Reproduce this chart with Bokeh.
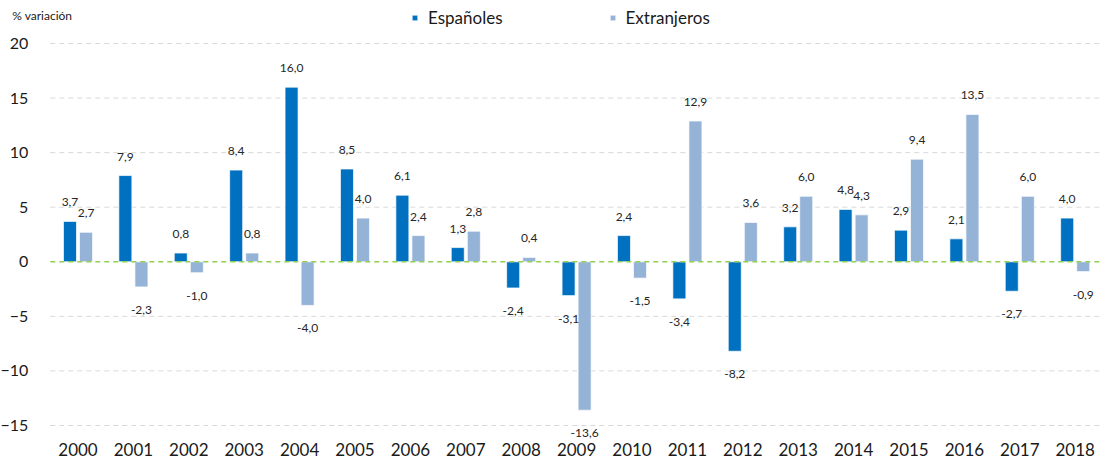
from bokeh.plotting import figure
from bokeh.models import (Range1d, ColumnDataSource, Legend, LegendItem, Label, FixedTicker)
from bokeh.transform import dodge
from bokeh.core.properties import value
from bokeh.embed import file_html
from bokeh.resources import INLINE

years = [str(y) for y in range(2000, 2019)]
espanoles = [3.7, 7.9, 0.8, 8.4, 16.0, 8.5, 6.1, 1.3, -2.4, -3.1, 2.4, -3.4, -8.2, 3.2, 4.8, 2.9, 2.1, -2.7, 4.0]
extranjeros = [2.7, -2.3, -1.0, 0.8, -4.0, 4.0, 2.4, 2.8, 0.4, -13.6, -1.5, 12.9, 3.6, 6.0, 4.3, 9.4, 13.5, 6.0, -0.9]
y_ticks = [-15, -10, -5, 0, 5, 10, 15, 20]

FONT = "Lato"
C_ESP = "#0070C0"
C_EXT = "#95B3D7"

xpos = list(range(len(years)))
X_START, X_END = -1.3989, 18.4747
Y_START, Y_END = -18.30, 23.94
LEFT_EDGE = -0.5
X_AXIS_AT = -15.367


def fmt(v):
    return f"{v:.1f}".replace(".", ",")


def label_source(vals, positive):
    idx = [i for i, v in enumerate(vals) if (v >= 0) == positive]
    return ColumnDataSource(dict(x=[xpos[i] for i in idx],
                                 val=[vals[i] for i in idx],
                                 lab=[fmt(vals[i]) for i in idx]))


src_esp = ColumnDataSource(dict(x=xpos, val=espanoles))
src_ext = ColumnDataSource(dict(x=xpos, val=extranjeros))

p = figure(width=1101, height=461, x_range=Range1d(X_START, X_END),
           y_range=Range1d(Y_START, Y_END), output_backend="svg", toolbar_location=None,
           min_border_left=0, min_border_right=0, min_border_top=0, min_border_bottom=0)
p.outline_line_color = None
p.background_fill_color = "white"
p.border_fill_color = "white"
p.xgrid.visible = False
p.ygrid.visible = False

# dashed gridlines starting at the category area edge
grid_y = [t for t in y_ticks if t != 0]
p.segment(x0=LEFT_EDGE, x1=X_END, y0=grid_y, y1=grid_y, line_color="#D9D9D9",
          line_width=1, line_dash="5 4")

off = 0.145
w = 0.235
r1 = p.vbar(x=dodge("x", -off), top="val", bottom=0, width=w, source=src_esp,
            fill_color=C_ESP, line_color="white", line_alpha=0.7, line_width=1)
r2 = p.vbar(x=dodge("x", off), top="val", bottom=0, width=w, source=src_ext,
            fill_color=C_EXT, line_color="white", line_alpha=0.7, line_width=1)

p.segment(x0=LEFT_EDGE, x1=X_END, y0=0, y1=0, line_color="#92D050", line_width=1.5,
          line_dash="5 4")

for vals, o in ((espanoles, -off), (extranjeros, off)):
    p.text(x=dodge("x", o), y="val", text="lab", source=label_source(vals, True),
           text_font=value(FONT), text_font_size="12px", text_color="#262626",
           text_align="center", text_baseline="middle", y_offset=-19)
    p.text(x=dodge("x", o), y="val", text="lab", source=label_source(vals, False),
           text_font=value(FONT), text_font_size="12px", text_color="#262626",
           text_align="center", text_baseline="middle", y_offset=23)

# axes drawn at fixed data locations so they take no panel space
p.yaxis.fixed_location = LEFT_EDGE
p.yaxis.ticker = FixedTicker(ticks=y_ticks)
p.yaxis.axis_line_color = None
p.yaxis.major_tick_line_color = None
p.yaxis.minor_tick_line_color = None
p.yaxis.major_label_text_font = FONT
p.yaxis.major_label_text_font_size = "16px"
p.yaxis.major_label_text_color = "#1a1a1a"
p.yaxis.major_label_standoff = 16

p.xaxis.fixed_location = X_AXIS_AT
p.xaxis.ticker = FixedTicker(ticks=xpos)
p.xaxis.major_label_overrides = {i: y for i, y in zip(xpos, years)}
p.xaxis.axis_line_color = None
p.xaxis.major_tick_line_color = None
p.xaxis.minor_tick_line_color = None
p.xaxis.major_label_text_font = FONT
p.xaxis.major_label_text_font_size = "17px"
p.xaxis.major_label_text_color = "#1a1a1a"
p.xaxis.major_label_standoff = 8

legend = Legend(items=[LegendItem(label="Españoles", renderers=[r1]),
                       LegendItem(label="Extranjeros", renderers=[r2])],
                orientation="horizontal", location=(411, 433),
                label_text_font=FONT, label_text_font_size="17px", label_text_color="#1a1a1a",
                glyph_width=7, glyph_height=7, label_standoff=10, spacing=106,
                background_fill_alpha=0, border_line_color=None, padding=0, margin=0)
p.add_layout(legend, "center")

ylab = Label(x=LEFT_EDGE, y=20, text="% variación", x_offset=-38, y_offset=28,
             text_font=FONT, text_font_size="12px", text_color="#1a1a1a",
             text_baseline="middle", text_align="left")
p.add_layout(ylab)

open("out.html", "w").write(file_html(p, INLINE))
